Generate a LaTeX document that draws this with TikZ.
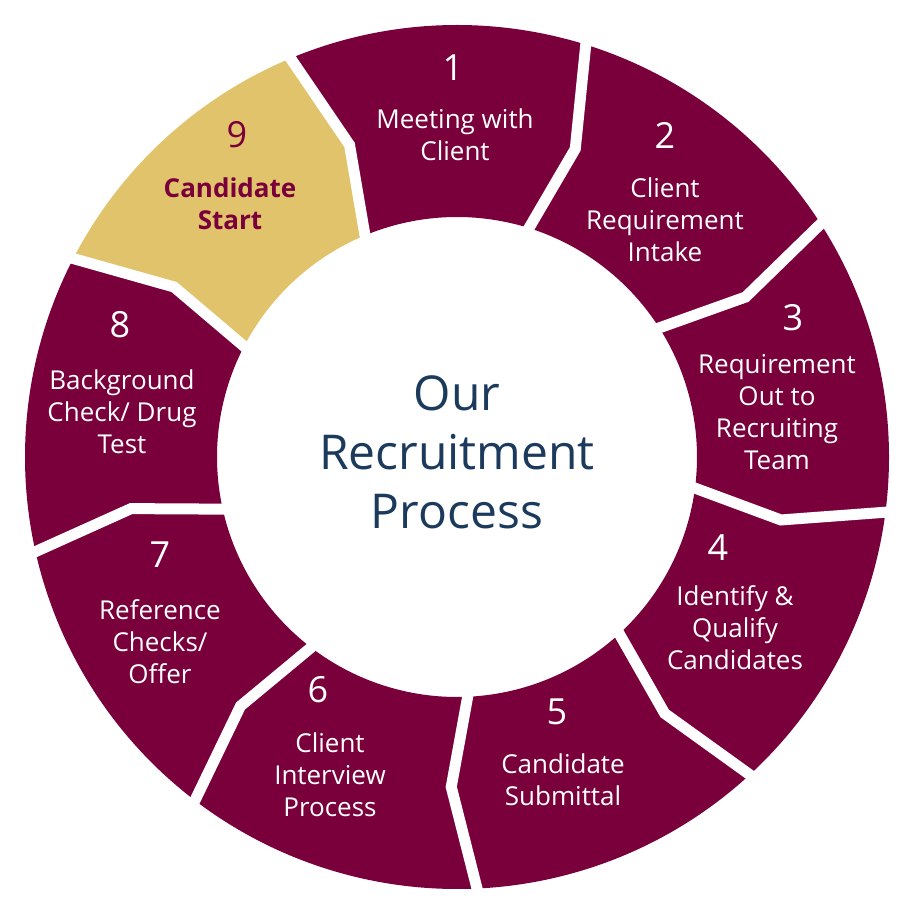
\documentclass[tikz,border=0pt]{standalone}
\usepackage{fontspec}
\setmainfont{Open Sans}
\definecolor{maroon}{HTML}{7A003C}
\definecolor{gold}{HTML}{E0C36A}
\definecolor{navy}{HTML}{1B3A5C}
\begin{document}
\begin{tikzpicture}[x=1pt,y=1pt,
  num/.style={font=\fontsize{36}{40}\selectfont,text=white},
  lab/.style={font=\fontsize{26}{32}\selectfont,text=white,align=center}]
\useasboundingbox (0,0) rectangle (915,915);
\begin{scope}[shift={(457,458)}]
\foreach \i in {1,...,9}{
  \pgfmathsetmacro\ts{90-(-63+40*\i)}
  \pgfmathsetmacro\te{\ts-40}
  \pgfmathsetmacro\ms{\ts-4}
  \pgfmathsetmacro\me{\te-4}
  \ifnum\i=9 \def\fc{gold}\else\def\fc{maroon}\fi
  \fill[\fc] (\ts:432) arc[start angle=\ts, end angle=\te, radius=432] -- (\me:330) -- (\te:240)
     arc[start angle=\te, end angle=\ts, radius=240] -- (\ms:330) -- cycle;
}
\foreach \i in {0,...,8}{
  \pgfmathsetmacro\t{90-(-23+40*\i)}
  \pgfmathsetmacro\m{\t-4}
  \draw[white,line width=11] (\t:445) -- (\m:330) -- (\t:232);
}
\end{scope}
\node[num] (n1) at (453,847) {1};
\node[lab] (t1) at (455,780) {Meeting with\\Client};
\node[num] (n2) at (665,780) {2};
\node[lab] (t2) at (665,695) {Client\\Requirement\\Intake};
\node[num] (n3) at (793,597) {3};
\node[lab] (t3) at (777,503) {Requirement\\Out to\\Recruiting\\Team};
\node[num] (n4) at (718,367) {4};
\node[lab] (t4) at (735,287) {Identify \&\\Qualify\\Candidates};
\node[num] (n5) at (557,203) {5};
\node[lab] (t5) at (563,135) {Candidate\\Submittal};
\node[num] (n6) at (318,225) {6};
\node[lab] (t6) at (330,140) {Client\\Interview\\Process};
\node[num] (n7) at (160,360) {7};
\node[lab] (t7) at (160,273) {Reference\\Checks/\\Offer};
\node[num] (n8) at (120,590) {8};
\node[lab] (t8) at (122,503) {Background\\Check/ Drug\\Test};
\node[num,text=maroon] (n9) at (237,780) {9};
\node[lab,text=maroon,font=\fontsize{26}{32}\selectfont\bfseries] (t9) at (230,711) {Candidate\\Start};
\node[font=\fontsize{48}{59}\selectfont,text=navy,align=center] (c) at (457,463) {Our\\Recruitment\\Process};
\end{tikzpicture}
\end{document}
